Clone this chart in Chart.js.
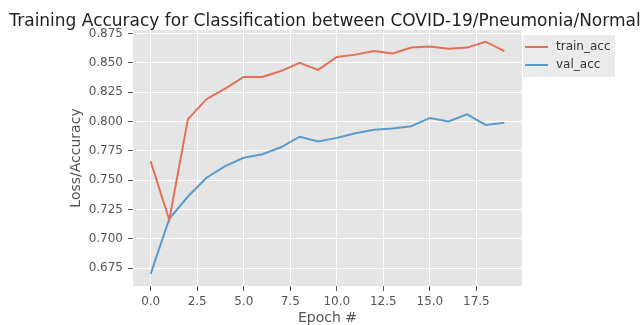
<!DOCTYPE html>
<html>
<head>
<meta charset="utf-8">
<title>Training Accuracy</title>
<script src="https://cdn.jsdelivr.net/npm/chart.js@4.4.0/dist/chart.umd.min.js"></script>
<style>
  body { margin: 0; background: #fff; }
  #wrap { width: 640px; height: 325px; }
</style>
</head>
<body>
<div id="wrap"><canvas id="acc" width="640" height="325"></canvas></div>
<script>
"use strict";
// values
var epochs = [0, 1, 2, 3, 4, 5, 6, 7, 8, 9, 10, 11, 12, 13, 14, 15, 16, 17, 18, 19];
var trainAcc = [0.766, 0.716, 0.802, 0.819, 0.828, 0.838, 0.838, 0.843, 0.850, 0.844,
  0.855, 0.857, 0.860, 0.858, 0.863, 0.864, 0.862, 0.863, 0.868, 0.860];
var valAcc = [0.670, 0.717, 0.736, 0.752, 0.762, 0.769, 0.772, 0.778, 0.787, 0.783,
  0.786, 0.790, 0.793, 0.794, 0.796, 0.803, 0.800, 0.806, 0.797, 0.799];
var xTicks = [0, 2.5, 5, 7.5, 10, 12.5, 15, 17.5];
var yTicks = [0.675, 0.700, 0.725, 0.750, 0.775, 0.800, 0.825, 0.850, 0.875];
var titleText = "Training Accuracy for Classification between COVID-19/Pneumonia/Normal";

function pts(ys) {
  return epochs.map(function (e, i) { return { x: e, y: ys[i] }; });
}

// grey panel, titles and the legend outside the axes (ggplot look)
var decor = {
  id: "decor",
  beforeDraw: function (chart) {
    var c = chart.ctx, a = chart.chartArea;
    c.save();
    c.fillStyle = "#E5E5E5";
    c.fillRect(a.left, a.top, a.right - a.left, a.bottom - a.top);
    c.restore();
  },
  afterDraw: function (chart) {
    var c = chart.ctx, a = chart.chartArea;
    var mid = (a.left + a.right) / 2;
    c.save();
    c.fillStyle = "#222";
    c.font = "17px 'DejaVu Sans'";
    c.textAlign = "center";
    c.textBaseline = "alphabetic";
    c.fillText(titleText, 325, 26);

    c.fillStyle = "#555";
    c.font = "14px 'DejaVu Sans'";
    c.textBaseline = "middle";
    c.fillText("Epoch #", mid, 318);
    c.translate(76, (a.top + a.bottom) / 2);
    c.rotate(-Math.PI / 2);
    c.fillText("Loss/Accuracy", 0, 0);
    c.restore();

    // legend
    c.save();
    c.fillStyle = "#EBEBEB";
    c.fillRect(a.right + 1, 35, 92, 42);
    chart.data.datasets.forEach(function (ds, i) {
      var y = 47 + i * 18;
      c.strokeStyle = ds.borderColor;
      c.lineWidth = 2;
      c.beginPath();
      c.moveTo(a.right + 3, y);
      c.lineTo(a.right + 26, y);
      c.stroke();
      c.fillStyle = "#333";
      c.font = "12px 'DejaVu Sans'";
      c.textAlign = "left";
      c.textBaseline = "middle";
      c.fillText(ds.label, a.right + 34, y);
    });
    c.restore();
  }
};

new Chart(document.getElementById("acc"), {
  type: "line",
  data: {
    datasets: [
      { label: "train_acc", data: pts(trainAcc), borderColor: "#E07058", borderWidth: 2,
        pointRadius: 0, tension: 0, fill: false },
      { label: "val_acc", data: pts(valAcc), borderColor: "#5A9BC8", borderWidth: 2,
        pointRadius: 0, tension: 0, fill: false }
    ]
  },
  options: {
    responsive: false,
    animation: false,
    devicePixelRatio: 1,
    layout: { padding: { top: 30, right: 118, left: 0, bottom: 0 } },
    plugins: { legend: { display: false }, title: { display: false }, tooltip: { enabled: false } },
    scales: {
      x: {
        type: "linear",
        min: -0.95,
        max: 19.95,
        afterBuildTicks: function (s) { s.ticks = xTicks.map(function (v) { return { value: v }; }); },
        afterFit: function (s) { s.height = 39; },
        border: { display: false },
        grid: { color: "#FFFFFF", lineWidth: 1, tickColor: "#555", tickLength: 5 },
        ticks: {
          color: "#555", font: { family: "DejaVu Sans", size: 12 }, padding: 4,
          maxRotation: 0, autoSkip: false,
          callback: function (v) { return Number(v).toFixed(1); }
        }
      },
      y: {
        type: "linear",
        min: 0.6597,
        max: 0.878,
        afterBuildTicks: function (s) { s.ticks = yTicks.map(function (v) { return { value: v }; }); },
        afterFit: function (s) { s.width = 133; },
        border: { display: false },
        grid: { color: "#FFFFFF", lineWidth: 1, tickColor: "#555", tickLength: 5 },
        ticks: {
          color: "#555", font: { family: "DejaVu Sans", size: 12 }, padding: 5,
          autoSkip: false,
          callback: function (v) { return Number(v).toFixed(3); }
        }
      }
    }
  },
  plugins: [decor]
});
</script>
</body>
</html>
